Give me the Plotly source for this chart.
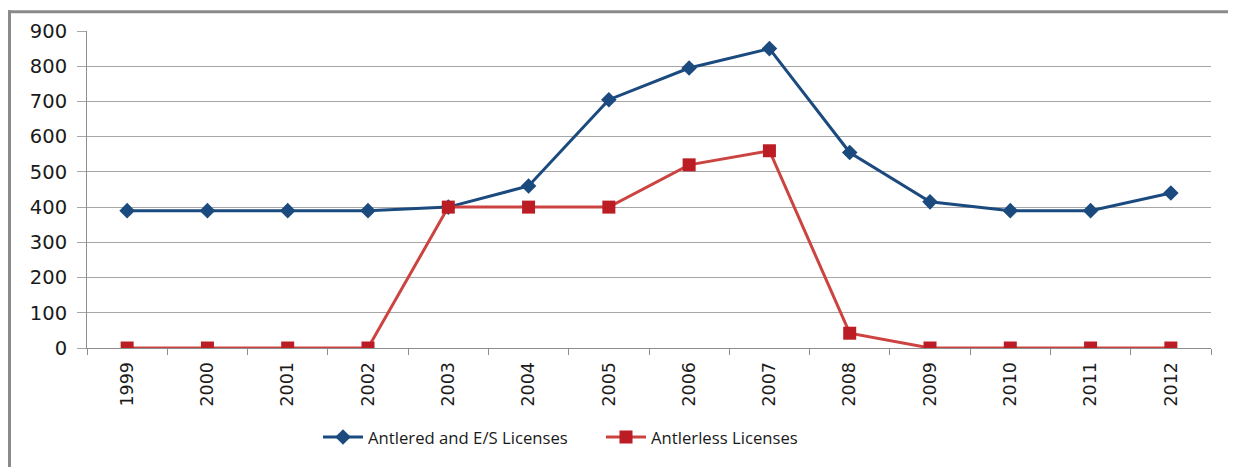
import plotly.graph_objects as go

years = ["1999", "2000", "2001", "2002", "2003", "2004", "2005", "2006",
         "2007", "2008", "2009", "2010", "2011", "2012"]
antlered = [390, 390, 390, 390, 400, 460, 705, 795, 850, 555, 415, 390, 390, 440]
antlerless = [0, 0, 0, 0, 400, 400, 400, 520, 560, 42, 0, 0, 0, 0]
y_ticks = [0, 100, 200, 300, 400, 500, 600, 700, 800, 900]

# page body margin offsets the figure by 8px
OFF = 8
W, H = 1236 - OFF, 467 - OFF
L, T = 87 - OFF, 29 - OFF
R = W - (1211 - OFF)
B = H - (349 - OFF)
pw, ph = W - L - R, H - T - B

def px_x(px):
    return (px - OFF - L) / pw

def px_y(py):
    return (H - B - (py - OFF)) / ph

fig = go.Figure()
fig.add_trace(go.Scatter(
    x=years, y=antlered, name="Antlered and E/S Licenses", mode="lines+markers",
    line=dict(color="#1B4A7F", width=3),
    marker=dict(symbol="diamond", size=12, color="#1B4A7F"),
))
fig.add_trace(go.Scatter(
    x=years, y=antlerless, name="Antlerless Licenses", mode="lines+markers",
    line=dict(color="#CC4441", width=3),
    marker=dict(symbol="square", size=13, color="#BC1D24"),
))

fig.update_layout(
    width=W, height=H,
    margin=dict(l=L, r=R, t=T, b=B),
    paper_bgcolor="white", plot_bgcolor="white",
    font=dict(family="DejaVu Sans", color="#1a1a1a"),
    showlegend=True,
    legend=dict(orientation="h", x=px_x(318), xanchor="left", y=px_y(439), yanchor="middle",
                font=dict(family="Open Sans", size=16.7, color="#1a1a1a"),
                itemwidth=40, tracegroupgap=0, entrywidth=228, entrywidthmode="pixels"),
    xaxis=dict(
        type="category", range=[-0.5, len(years) - 0.5],
        showgrid=False, showline=True, linecolor="#8c8c8c", linewidth=1,
        ticks="outside", tickson="boundaries", ticklen=6, tickcolor="#8c8c8c",
        tickangle=-90, tickfont=dict(size=17.5, family="DejaVu Sans"),
        zeroline=False, ticklabelstandoff=6,
    ),
    yaxis=dict(
        range=[0, 900], tickvals=y_ticks,
        showgrid=True, gridcolor="#a6a6a6", gridwidth=1,
        showline=True, linecolor="#8c8c8c", linewidth=1,
        ticks="outside", ticklen=9, tickcolor="#a6a6a6",
        tickfont=dict(size=19.5, family="DejaVu Sans"),
        zeroline=False, ticklabelstandoff=6,
    ),
    shapes=[
        dict(type="line", xref="paper", yref="paper",
             x0=px_x(OFF + 1.5), x1=px_x(OFF + 1.5), y0=px_y(470), y1=px_y(OFF),
             line=dict(color="#8a8a8a", width=3)),
        dict(type="line", xref="paper", yref="paper",
             x0=px_x(OFF), x1=px_x(1236), y0=px_y(OFF + 1.5), y1=px_y(OFF + 1.5),
             line=dict(color="#8a8a8a", width=3)),
    ],
)

fig.write_html("out.html")
